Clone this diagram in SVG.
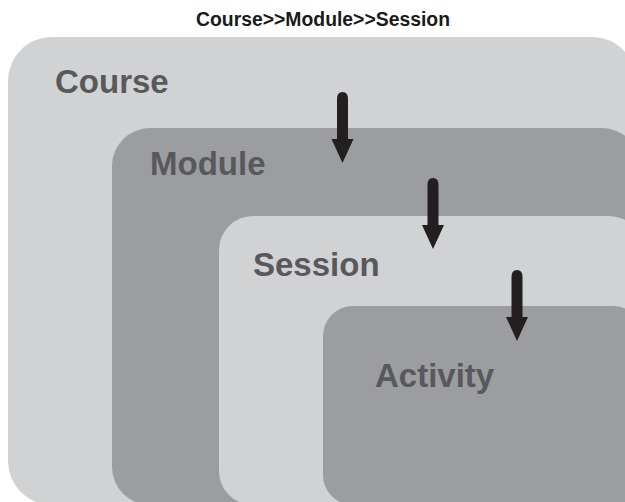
<svg xmlns="http://www.w3.org/2000/svg" xmlns:xlink="http://www.w3.org/1999/xlink" width="625" height="502" viewBox="0 0 625 502">
<style>
.light{fill:#d1d2d4}
.dark{fill:#9c9da1}
.lbl{font-family:"Liberation Sans",Arial,sans-serif;font-weight:bold;font-size:33px;fill:#58595b}
.title{font-family:"Liberation Sans",Arial,sans-serif;font-weight:bold;font-size:20px;fill:#1a1a1a}
.arrow{fill:#231f20}
</style>
<defs>
<path id="arr" d="M-5.5,7 Q-5.5,0 0,0 Q5.5,0 5.5,7 L5.5,47 L11,47 L0,71 L-11,47 L-5.5,47 Z"/>
</defs>
<rect width="625" height="502" fill="#ffffff"/>
<text class="title" x="323" y="26" text-anchor="middle" textLength="254" lengthAdjust="spacingAndGlyphs">Course&gt;&gt;Module&gt;&gt;Session</text>
<g id="course">
<rect class="light" x="8" y="37" width="628" height="468" rx="44" ry="44"/>
<text class="lbl" x="55" y="93">Course</text>
</g>
<g id="module">
<rect class="dark" x="112" y="128" width="528" height="377" rx="38" ry="38"/>
<text class="lbl" x="150" y="175">Module</text>
</g>
<g id="session">
<rect class="light" x="219" y="216" width="424" height="289" rx="34" ry="34"/>
<text class="lbl" x="253" y="276">Session</text>
</g>
<g id="activity">
<rect class="dark" x="323" y="306" width="320" height="199" rx="30" ry="30"/>
<text class="lbl" x="375" y="387">Activity</text>
</g>
<g id="connectors" class="arrow">
<use xlink:href="#arr" transform="translate(342.5,92)"/>
<use xlink:href="#arr" transform="translate(433,178)"/>
<use xlink:href="#arr" transform="translate(517,270)"/>
</g>
</svg>
